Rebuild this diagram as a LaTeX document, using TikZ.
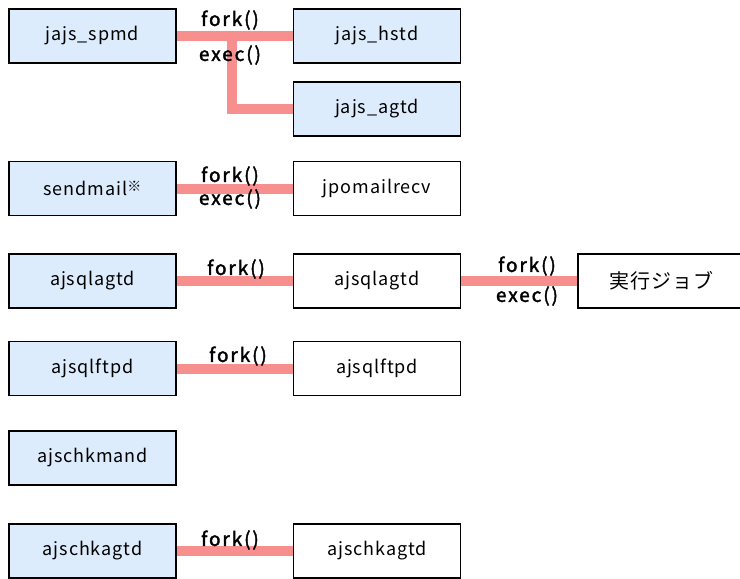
\documentclass[tikz,border=0pt]{standalone}
\usepackage{fontspec}
\setmainfont{Noto Sans CJK JP}[LetterSpace=5]
\newfontfamily\callfont{Noto Sans CJK JP}[LetterSpace=10,FakeBold=2]
\definecolor{procblue}{RGB}{220,236,252}
\definecolor{forkpink}{RGB}{247,143,143}

\begin{document}
\begin{tikzpicture}
    [x=1pt,y=-1pt,every node/.style={draw, line width=1.5pt, rectangle, inner sep=0pt, minimum width=167pt, minimum height=54pt, font=\fontsize{18}{20}\selectfont},
     daemon/.style={fill=procblue},
     call/.style={draw=none, minimum width=0pt, minimum height=0pt, font=\callfont\fontsize{19}{21}\selectfont},
     pipe/.style={draw=forkpink, line width=10pt}]
  \useasboundingbox (0,0) rectangle (740,579);

  \node[daemon] (spmd) at (92.5,36) {jajs\_spmd};
  \node[daemon] (hstd) at (377,36) {jajs\_hstd};
  \node[daemon] (agtd) at (377,109) {jajs\_agtd};
  \node[daemon] (sendmail) at (92.5,188.5) {sendmail\raisebox{4pt}{\fontsize{14}{14}\selectfont ※}};
  \node (recv) at (377,188.5) {jpomailrecv};
  \node[daemon] (sqlagtd) at (92.5,281) {ajsqlagtd};
  \node (sqlagtdc) at (377,281) {ajsqlagtd};
  \node[font=\fontsize{20}{22}\selectfont] (job) at (661.5,281) {実行ジョブ};
  \node[daemon] (sqlftpd) at (92.5,368.5) {ajsqlftpd};
  \node (sqlftpdc) at (377,368.5) {ajsqlftpd};
  \node[daemon] (chkmand) at (92.5,458) {ajschkmand};
  \node[daemon] (chkagtd) at (92.5,551) {ajschkagtd};
  \node (chkagtdc) at (377,551) {ajschkagtd};

  \foreach \from/\to in {spmd/hstd, sendmail/recv, sqlagtd/sqlagtdc, sqlagtdc/job, sqlftpd/sqlftpdc, chkagtd/chkagtdc}
    \draw[pipe] (\from) -- (\to);
  \coordinate (branch) at (232,36);
  \draw[pipe] (branch) |- (agtd);

  \node[call] (fork1) at (230,20) {fork()};
  \node[call] (exec1) at (230,55) {exec()};
  \node[call] (fork2) at (230,176) {fork()};
  \node[call] (exec2) at (230,199) {exec()};
  \node[call] (fork3) at (236,269) {fork()};
  \node[call] (fork4) at (527,266) {fork()};
  \node[call] (exec4) at (527,296) {exec()};
  \node[call] (fork5) at (238,356) {fork()};
  \node[call] (fork6) at (230,540) {fork()};
\end{tikzpicture}
\end{document}
